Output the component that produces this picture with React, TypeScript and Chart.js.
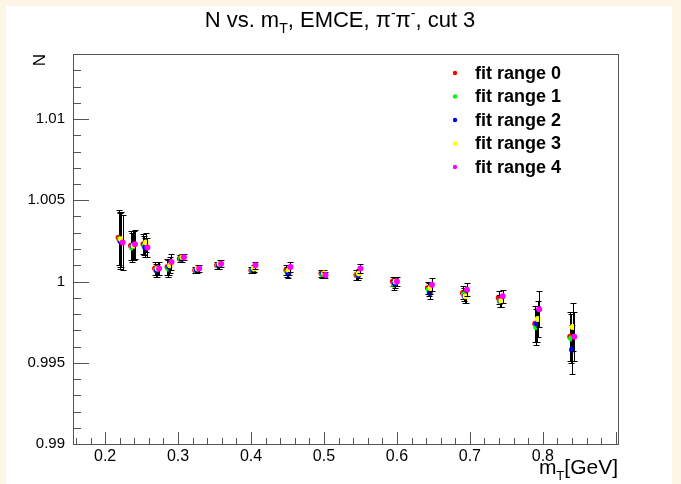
import React, { useEffect, useRef } from "react";
import { Chart, registerables } from "chart.js";

Chart.register(...registerables);

// ---- data ----
const mT = [0.221, 0.238, 0.255, 0.271, 0.288, 0.305, 0.326, 0.356, 0.403, 0.451, 0.499, 0.547, 0.597, 0.645, 0.693, 0.742, 0.792, 0.840];
const seriesShift = [-0.0025, -0.0012, 0.0, 0.001, 0.003];

const fitRange0 = [1.0027, 1.0022, 1.0023, 1.0008, 1.0009, 1.0014, 1.0007, 1.0010, 1.0007, 1.0007, 1.0005, 1.0004, 1.0000, 0.9996, 0.9993, 0.9990, 0.9974, 0.9966];
const fitRange1 = [1.0026, 1.0021, 1.0022, 1.0007, 1.0008, 1.0014, 1.0007, 1.0010, 1.0007, 1.0006, 1.0004, 1.0004, 0.9998, 0.9995, 0.9992, 0.9988, 0.9972, 0.9965];
const fitRange2 = [1.0025, 1.0022, 1.0021, 1.0007, 1.0009, 1.0014, 1.0007, 1.0010, 1.0007, 1.0005, 1.0005, 1.0004, 0.9999, 0.9993, 0.9991, 0.9988, 0.9974, 0.9958];
const fitRange3 = [1.0026, 1.0022, 1.0024, 1.0008, 1.0010, 1.0015, 1.0008, 1.0011, 1.0008, 1.0007, 1.0005, 1.0005, 1.0000, 0.9996, 0.9991, 0.9988, 0.9977, 0.9972];
const fitRange4 = [1.0024, 1.0023, 1.0021, 1.0008, 1.0012, 1.0015, 1.0008, 1.0011, 1.0010, 1.0009, 1.0004, 1.0008, 1.0000, 0.9998, 0.9995, 0.9991, 0.9983, 0.9966];

const errN = [0.0017, 0.0009, 0.0006, 0.0004, 0.0005, 0.0002, 0.0002, 0.0002, 0.0002, 0.0003, 0.0002, 0.0003, 0.0003, 0.0004, 0.0004, 0.0004, 0.0011, 0.0015];

const seriesNames = ["fit range 0", "fit range 1", "fit range 2", "fit range 3", "fit range 4"];
const seriesValues = [fitRange0, fitRange1, fitRange2, fitRange3, fitRange4];
const seriesColors = ["#ff0000", "#00ff00", "#0000ff", "#ffff00", "#ff00ff"];

const xTickValues = [0.2, 0.3, 0.4, 0.5, 0.6, 0.7, 0.8];
const xTickLabels = ["0.2", "0.3", "0.4", "0.5", "0.6", "0.7", "0.8"];
const yTickValues = [0.99, 0.995, 1.0, 1.005, 1.01];
const yTickLabels = ["0.99", "0.995", "1", "1.005", "1.01"];

const X_MIN = 0.156;
const X_MAX = 0.903;
const Y_MIN = 0.99;
const Y_MAX = 1.014;

const FONT = "'Liberation Sans', Arial, Helvetica, sans-serif";

type Seg = { t: string; sub?: boolean; sup?: boolean };

function drawRich(ctx: CanvasRenderingContext2D, segs: Seg[], x: number, y: number, size: number, align: "center" | "right" | "left", bold = false) {
  const fontFor = (s: Seg) => `${bold ? "bold " : ""}${s.sub || s.sup ? Math.round(size * 0.62) : size}px ${FONT}`;
  let total = 0;
  for (const s of segs) {
    ctx.font = fontFor(s);
    total += ctx.measureText(s.t).width;
  }
  let cx = align === "center" ? x - total / 2 : align === "right" ? x - total : x;
  ctx.textAlign = "left";
  ctx.textBaseline = "alphabetic";
  for (const s of segs) {
    ctx.font = fontFor(s);
    const dy = s.sub ? size * 0.28 : s.sup ? -size * 0.42 : 0;
    ctx.fillText(s.t, cx, y + dy);
    cx += ctx.measureText(s.t).width;
  }
}

const rootPlugin = {
  id: "rootStyle",
  beforeDraw(chart: any) {
    const { ctx, width, height } = chart;
    ctx.save();
    ctx.fillStyle = "#fdf5e6";
    ctx.fillRect(0, 0, width, height);
    ctx.fillStyle = "#ffffff";
    ctx.fillRect(6, 6, 666, height - 6);
    ctx.restore();
  },
  beforeDatasetDraw(chart: any, args: any) {
    const idx = args.index;
    const meta = chart.getDatasetMeta(idx);
    const ys = chart.scales.y;
    const { ctx, chartArea } = chart;
    ctx.save();
    ctx.beginPath();
    ctx.rect(chartArea.left, chartArea.top, chartArea.right - chartArea.left, chartArea.bottom - chartArea.top);
    ctx.clip();
    ctx.strokeStyle = "#000000";
    ctx.lineWidth = 1;
    const vals = seriesValues[idx];
    meta.data.forEach((el: any, i: number) => {
      const x = Math.round(el.x) + 0.5;
      const yt = Math.round(ys.getPixelForValue(vals[i] + errN[i])) + 0.5;
      const yb = Math.round(ys.getPixelForValue(vals[i] - errN[i])) + 0.5;
      ctx.beginPath();
      ctx.moveTo(x, yt);
      ctx.lineTo(x, yb);
      ctx.moveTo(x - 3, yt);
      ctx.lineTo(x + 3, yt);
      ctx.moveTo(x - 3, yb);
      ctx.lineTo(x + 3, yb);
      ctx.stroke();
    });
    ctx.restore();
  },
  afterDraw(chart: any) {
    const { ctx, chartArea } = chart;
    const xs = chart.scales.x;
    const ys = chart.scales.y;
    const L = chartArea.left, R = chartArea.right, T = chartArea.top, B = chartArea.bottom;
    ctx.save();
    // frame
    ctx.strokeStyle = "#555555";
    ctx.lineWidth = 1;
    ctx.strokeRect(Math.round(L) + 0.5, Math.round(T) + 0.5, Math.round(R - L), Math.round(B - T));

    // y ticks
    ctx.beginPath();
    for (let k = 0; k <= 24; k++) {
      const v = 0.99 + k * 0.001;
      if (v > Y_MAX + 1e-9) break;
      const p = Math.round(ys.getPixelForValue(v)) + 0.5;
      const major = k % 5 === 0;
      ctx.moveTo(L, p);
      ctx.lineTo(L + (major ? 16 : 8), p);
    }
    // x ticks
    for (let k = 0; k <= 40; k++) {
      const v = 0.16 + k * 0.02;
      if (v > X_MAX) break;
      const p = Math.round(xs.getPixelForValue(v)) + 0.5;
      const major = Math.abs(v * 10 - Math.round(v * 10)) < 1e-6;
      ctx.moveTo(p, B);
      ctx.lineTo(p, B - (major ? 12 : 6));
    }
    ctx.stroke();

    // tick labels
    ctx.fillStyle = "#000000";
    ctx.font = `15px ${FONT}`;
    ctx.textAlign = "right";
    ctx.textBaseline = "middle";
    yTickValues.forEach((v, i) => {
      ctx.fillText(yTickLabels[i], L - 8, ys.getPixelForValue(v));
    });
    ctx.font = `16px ${FONT}`;
    ctx.textAlign = "center";
    ctx.textBaseline = "top";
    xTickValues.forEach((v, i) => {
      ctx.fillText(xTickLabels[i], xs.getPixelForValue(v), B + 5);
    });

    // axis titles
    drawRich(ctx, [{ t: "m" }, { t: "T", sub: true }, { t: "[GeV]" }], R, B + 30, 21, "right");
    ctx.save();
    ctx.translate(45, T);
    ctx.rotate(-Math.PI / 2);
    ctx.font = `17px ${FONT}`;
    ctx.textAlign = "right";
    ctx.textBaseline = "alphabetic";
    ctx.fillText("N", 0, 0);
    ctx.restore();

    // title
    drawRich(ctx, [
      { t: "N vs. m" }, { t: "T", sub: true }, { t: ", EMCE, π" }, { t: "-", sup: true },
      { t: "π" }, { t: "-", sup: true }, { t: ", cut 3" },
    ], 340, 27, 22, "center");

    // legend
    seriesNames.forEach((name, i) => {
      const yy = 73 + i * 23.5;
      ctx.fillStyle = seriesColors[i];
      ctx.beginPath();
      ctx.arc(455, yy, 2.2, 0, Math.PI * 2);
      ctx.fill();
      ctx.fillStyle = "#000000";
      ctx.font = `bold 18px ${FONT}`;
      ctx.textAlign = "left";
      ctx.textBaseline = "middle";
      ctx.fillText(name, 475, yy + 1);
    });
    ctx.restore();
  },
};

export default function App() {
  const ref = useRef<HTMLCanvasElement | null>(null);
  useEffect(() => {
    document.body.style.margin = "0";
    const canvas = ref.current!;
    const datasets = seriesValues.map((vals, s) => ({
      label: seriesNames[s],
      data: mT.map((x, i) => ({ x: x + seriesShift[s], y: vals[i] })),
      backgroundColor: seriesColors[s],
      borderColor: seriesColors[s],
      borderWidth: 0,
      pointRadius: 3,
      pointStyle: "circle",
      showLine: false,
      order: 4 - s,
    }));
    const chart = new Chart(canvas, {
      type: "scatter",
      data: { datasets },
      options: {
        animation: false,
        responsive: false,
        maintainAspectRatio: false,
        layout: { padding: { left: 73, top: 54, right: 63, bottom: 40 } },
        plugins: { legend: { display: false }, tooltip: { enabled: false }, title: { display: false } },
        scales: {
          x: { type: "linear", display: false, min: X_MIN, max: X_MAX },
          y: { type: "linear", display: false, min: Y_MIN, max: Y_MAX },
        },
      },
      plugins: [rootPlugin],
    } as any);
    return () => chart.destroy();
  }, []);
  return (
    <div style={{ position: "fixed", left: 0, top: 0, width: 681, height: 484 }}>
      <canvas ref={ref} width={681} height={484} style={{ display: "block", width: 681, height: 484 }} />
    </div>
  );
}
